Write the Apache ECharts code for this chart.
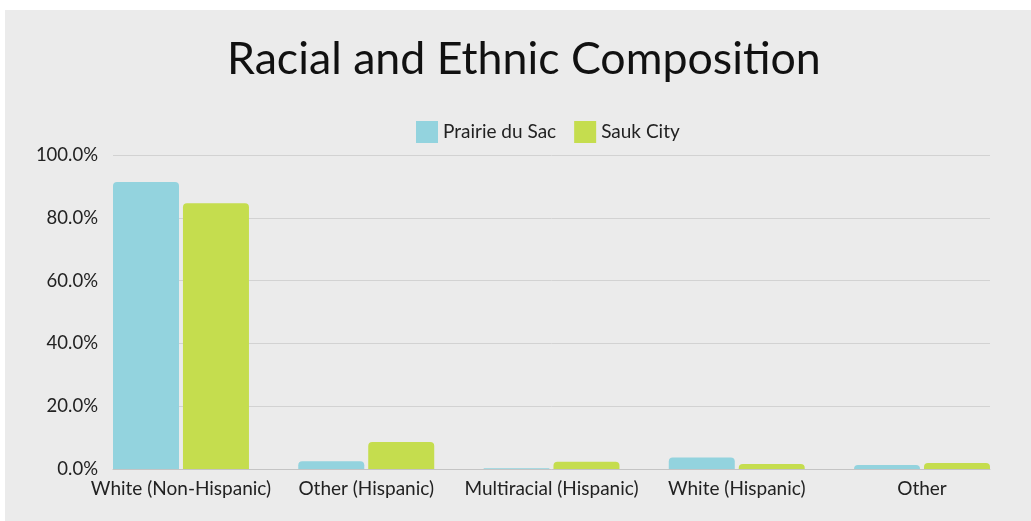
<!DOCTYPE html>
<html>
<head>
<meta charset="utf-8">
<script src="https://cdn.jsdelivr.net/npm/echarts@6/dist/echarts.min.js"></script>
<style>
  html, body { margin: 0; padding: 0; background: #ffffff; }
  #chart { position: absolute; left: 5px; top: 10px; width: 1026px; height: 511px; background: #ebebeb; }
</style>
</head>
<body>
<div id="chart"></div>
<script>
// categories and values (percent)
var categories = ['White (Non-Hispanic)', 'Other (Hispanic)', 'Multiracial (Hispanic)', 'White (Hispanic)', 'Other'];
var prairieDuSac = [91.4, 2.5, 0.2, 3.7, 1.3];
var saukCity = [84.6, 8.6, 2.3, 1.6, 1.9];
var seriesNames = ['Prairie du Sac', 'Sauk City'];

var font = 'Lato, "Noto Sans", sans-serif';

function toPoints(arr) {
    return arr.map(function (v, i) { return [i, v]; });
}

var chart = echarts.init(document.getElementById('chart'));
chart.setOption({
    backgroundColor: 'transparent',
    textStyle: { fontFamily: font },
    title: {
        text: 'Racial and Ethnic Composition',
        left: 217,
        top: 22,
        textStyle: { fontFamily: font, fontSize: 44.7, fontWeight: 'normal', color: '#111' }
    },
    legend: {
        left: 406,
        top: 106,
        itemWidth: 22,
        itemHeight: 22,
        itemGap: 18,
        icon: 'rect',
        textStyle: { fontFamily: font, fontSize: 19, color: '#222' },
        data: seriesNames
    },
    grid: { left: 108, right: 41, top: 145, bottom: 52 },
    xAxis: {
        type: 'value',
        min: -0.367,
        max: 4.367,
        splitLine: { show: false },
        axisTick: { show: false },
        axisLine: { show: true, lineStyle: { color: '#c4c4c4', width: 1 } },
        axisLabel: {
            customValues: [0, 1, 2, 3, 4],
            margin: 10,
            fontSize: 19,
            color: '#222',
            formatter: function (v) { return categories[Math.round(v)] || ''; }
        }
    },
    yAxis: {
        type: 'value',
        min: 0,
        max: 100,
        interval: 20,
        axisLine: { show: false },
        axisTick: { show: false },
        splitLine: { lineStyle: { color: '#d2d2d2' } },
        axisLabel: {
            margin: 15,
            fontSize: 18.5,
            color: '#222',
            formatter: function (v) { return v.toFixed(1) + '%'; }
        }
    },
    series: [
        {
            name: seriesNames[0],
            type: 'bar',
            barWidth: 66,
            barGap: '6%',
            itemStyle: { color: '#93d3de', borderRadius: [4, 4, 0, 0] },
            data: toPoints(prairieDuSac)
        },
        {
            name: seriesNames[1],
            type: 'bar',
            barWidth: 66,
            barGap: '6%',
            itemStyle: { color: '#c5dd4e', borderRadius: [4, 4, 0, 0] },
            data: toPoints(saukCity)
        }
    ]
});
</script>
</body>
</html>
